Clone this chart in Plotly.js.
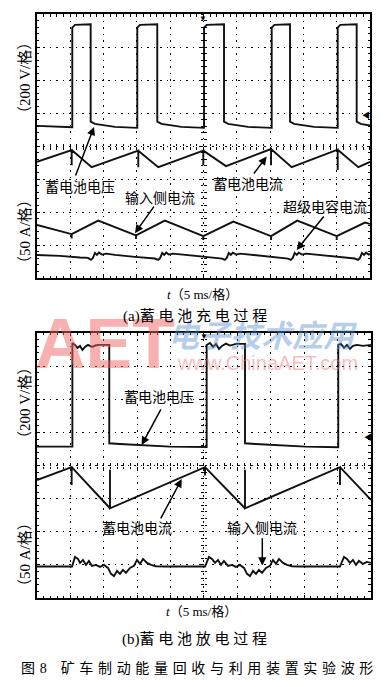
<!DOCTYPE html>
<html><head><meta charset="utf-8">
<script src="https://cdn.plot.ly/plotly-3.0.1.min.js"></script>
<style>html,body{margin:0;padding:0;background:#fff;}#chart{width:391px;height:687px;}</style>
</head><body><div id="chart"></div>
<script>
// ---- data: time in ms (5 ms per division), value in screen divisions ----
// Panel (a) battery charging
const tA_volt = [0, 5.3, 5.3, 5.7, 8.06, 8.06, 8.7, 11.7, 15.06, 15.06, 15.46, 18.06, 18.06, 18.7, 21.7, 25.08, 25.08, 25.48, 28.08, 28.08, 28.7, 31.7, 35.24, 35.24, 35.64, 37.99, 37.99, 38.6, 41.6, 45.15, 45.15, 45.55, 48.0, 48.0, 48.6, 50];
const vA_volt = [4.61, 4.57, 7.59, 7.67, 7.69, 4.74, 4.67, 4.58, 4.55, 7.59, 7.67, 7.69, 4.74, 4.67, 4.58, 4.55, 7.59, 7.67, 7.69, 4.74, 4.67, 4.58, 4.55, 7.59, 7.67, 7.69, 4.74, 4.67, 4.58, 4.55, 7.59, 7.67, 7.69, 4.74, 4.67, 4.62];

const tA_bat = [0, 5.21, 5.21, 5.21, 8.21, 15.21, 15.21, 15.21, 18.21, 24.97, 24.97, 24.97, 28.38, 35.14, 35.14, 35.14, 38.24, 45.15, 45.15, 45.15, 48.24, 50];
const vA_bat = [3.52, 3.88, 3.42, 3.88, 3.36, 3.86, 3.36, 3.86, 3.36, 3.86, 3.42, 3.86, 3.39, 3.91, 3.42, 3.91, 3.36, 3.89, 3.27, 3.89, 3.36, 3.52];

const tA_in = [0, 5.21, 5.21, 5.21, 9.2, 14.86, 14.86, 14.86, 19.2, 24.97, 24.97, 24.97, 29.47, 35.14, 35.14, 35.14, 39.08, 45.0, 45.0, 45.0, 49.25, 50];
const vA_in = [1.61, 1.33, 1.2, 1.33, 1.74, 1.29, 1.18, 1.29, 1.74, 1.27, 1.15, 1.27, 1.71, 1.27, 1.15, 1.27, 1.74, 1.27, 1.15, 1.27, 1.68, 1.64];

const tA_sc = [0, 3.45, 6.46, 7.66, 8.1, 8.4, 8.7, 9.0, 9.3, 9.76, 10.4, 11.7, 14.7, 17.7, 18.2, 18.5, 18.8, 19.1, 19.4, 19.8, 20.4, 22.2, 25.2, 27.8, 28.2, 28.5, 28.8, 29.1, 29.4, 29.9, 30.5, 32.7, 35.7, 37.7, 38.1, 38.4, 38.7, 39.0, 39.3, 39.8, 40.4, 42.5, 45.5, 47.7, 48.2, 48.5, 48.8, 49.1, 49.4, 49.8, 50];
const vA_sc = [0.70, 0.67, 0.62, 0.61, 0.55, 0.61, 0.76, 0.70, 0.77, 0.71, 0.74, 0.70, 0.64, 0.59, 0.55, 0.61, 0.76, 0.70, 0.77, 0.71, 0.74, 0.70, 0.64, 0.59, 0.55, 0.61, 0.76, 0.70, 0.77, 0.71, 0.74, 0.70, 0.64, 0.59, 0.55, 0.61, 0.76, 0.70, 0.77, 0.71, 0.74, 0.70, 0.64, 0.59, 0.55, 0.61, 0.76, 0.70, 0.77, 0.71, 0.73];

// Panel (b) battery discharging
const tB_volt = [0, 5.3, 5.3, 5.69, 6.06, 6.44, 6.81, 7.19, 7.63, 8.23, 8.83, 9.43, 10.82, 10.82, 12.4, 15.4, 19.9, 25.4, 25.4, 25.9, 26.35, 26.8, 27.25, 27.7, 28.29, 28.89, 29.79, 31.14, 31.14, 32.7, 35.7, 40.2, 45.1, 45.1, 45.5, 45.96, 46.4, 46.86, 47.3, 47.9, 48.8, 50];
const vB_volt = [4.57, 4.57, 7.70, 7.64, 7.55, 7.61, 7.49, 7.58, 7.64, 7.58, 7.63, 7.64, 7.64, 4.67, 4.65, 4.61, 4.57, 4.56, 7.64, 7.70, 7.58, 7.67, 7.52, 7.61, 7.68, 7.62, 7.67, 7.67, 4.67, 4.65, 4.61, 4.57, 4.55, 7.64, 7.67, 7.55, 7.64, 7.52, 7.61, 7.64, 7.61, 7.64];

const tB_bat = [0, 5.19, 5.19, 5.19, 10.93, 10.93, 10.93, 25.15, 25.15, 25.15, 31.14, 31.14, 31.14, 45.36, 45.36, 45.36, 50];
const vB_bat = [3.56, 3.95, 3.41, 3.95, 2.71, 3.87, 2.71, 3.95, 3.70, 3.95, 2.71, 3.87, 2.71, 3.95, 3.41, 3.95, 2.96];

const tB_in = [0, 5.24, 5.69, 6.14, 6.44, 6.89, 7.34, 7.78, 8.23, 8.83, 9.43, 10.03, 10.63, 11.08, 11.53, 11.98, 12.42, 12.87, 13.32, 13.92, 14.52, 14.97, 15.42, 15.87, 16.47, 17.07, 17.81, 19.16, 25.15, 25.75, 26.2, 26.65, 27.1, 27.54, 27.99, 28.59, 29.19, 29.79, 30.39, 30.99, 31.44, 31.89, 32.34, 32.79, 33.23, 33.68, 34.28, 34.88, 35.33, 35.78, 36.23, 36.83, 37.43, 38.17, 39.37, 45.36, 45.96, 46.4, 46.86, 47.3, 47.75, 48.2, 48.8, 49.4, 50];
const vB_in = [0.95, 0.95, 1.24, 1.18, 1.06, 1.15, 1.00, 1.12, 0.97, 1.00, 0.94, 1.00, 0.91, 0.73, 0.66, 0.82, 0.73, 0.85, 0.76, 0.91, 0.97, 1.15, 1.03, 1.18, 1.06, 1.00, 0.96, 0.95, 0.95, 1.24, 1.18, 1.06, 1.15, 1.00, 1.12, 0.97, 1.00, 0.94, 1.00, 0.91, 0.73, 0.66, 0.82, 0.73, 0.85, 0.76, 0.91, 0.97, 1.15, 1.03, 1.18, 1.06, 1.00, 0.96, 0.95, 0.95, 1.24, 1.18, 1.06, 1.15, 1.00, 1.12, 1.03, 1.09, 1.06];

// text
const voltUnit = '（200 V/格）';
const ampUnit = '（50 A/格）';
const timeTitle = '<i>t</i>（5 ms/格）';
const capA = '(a)蓄 电 池 充 电 过 程';
const capB = '(b)蓄 电 池 放 电 过 程';
const figCap = '图\u20048\u3000矿\u2004车\u2004制\u2004动\u2004能\u2004量\u2004回\u2004收\u2004与\u2004利\u2004用\u2004装\u2004置\u2004实\u2004验\u2004波\u2004形';
const lblBatV = '蓄电池电压', lblBatI = '蓄电池电流', lblInI = '输入侧电流', lblScI = '超级电容电流';

// ---- layout helpers ----
const FONT = 'Liberation Serif, Noto Sans CJK SC, serif';
const XA = [0.0946, 0.9463], YA = [0.5953, 0.9796];
const XB = [0.0946, 0.9488], YB = [0.1295, 0.5153];
const TR = [0, 50], VR = [0, 8];

function wave(x, y, xa, ya) {
  return {type: 'scatter', mode: 'lines', x: x, y: y, xaxis: xa, yaxis: ya,
    line: {color: '#111', width: 1.9}, hoverinfo: 'skip', showlegend: false};
}
function dummy(xa, ya) {
  return {type: 'scatter', mode: 'lines', x: [], y: [], xaxis: xa, yaxis: ya, hoverinfo: 'skip', showlegend: false};
}
function frame(dom, range, dtick, mdt, anchor) {
  return {domain: dom, range: range, anchor: anchor, showline: true, linewidth: 2, linecolor: '#000',
    mirror: 'ticks', ticks: 'inside', ticklen: 3, tickwidth: 1, tickcolor: '#000', dtick: dtick, tick0: 0,
    showgrid: true, gridcolor: '#000', gridwidth: 1, griddash: '1.5px,5px', zeroline: false,
    showticklabels: false, fixedrange: true,
    minor: {dtick: mdt, tick0: 0, ticks: 'inside', ticklen: 2.5, tickwidth: 1, tickcolor: '#000', showgrid: false}};
}
function center(overlay, dom, range, dtick, mdt, pos, side) {
  return {overlaying: overlay, anchor: 'free', position: pos, domain: dom, range: range,
    showline: false, showgrid: false, zeroline: false, showticklabels: false, fixedrange: true,
    ticks: side, ticklen: 2.5, tickwidth: 1, tickcolor: '#000', dtick: dtick, tick0: 0,
    minor: {dtick: mdt, tick0: 0, ticks: side, ticklen: 2.5, tickwidth: 1, tickcolor: '#000', showgrid: false}};
}
const mid = d => (d[0] + d[1]) / 2;

function txt(text, x, y, xref, yref, size, extra) {
  return Object.assign({text: text, x: x, y: y, xref: xref, yref: yref, showarrow: false,
    xanchor: 'center', yanchor: 'middle', font: {family: FONT, size: size, color: '#000'}}, extra || {});
}
function arrow(hx, hy, tx, ty, xref, yref) {
  return {text: '', x: hx, y: hy, ax: tx, ay: ty, xref: xref, yref: yref, axref: xref, ayref: yref,
    showarrow: true, arrowhead: 2, arrowsize: 1.1, arrowwidth: 1.5, arrowcolor: '#000'};
}

const data = [
  wave(tA_volt, vA_volt, 'x', 'y'), wave(tA_bat, vA_bat, 'x', 'y'),
  wave(tA_in, vA_in, 'x', 'y'), wave(tA_sc, vA_sc, 'x', 'y'),
  wave(tB_volt, vB_volt, 'x2', 'y2'), wave(tB_bat, vB_bat, 'x2', 'y2'), wave(tB_in, vB_in, 'x2', 'y2'),
  dummy('x3', 'y'), dummy('x4', 'y'), dummy('x', 'y3'), dummy('x', 'y4'),
  dummy('x5', 'y2'), dummy('x6', 'y2'), dummy('x2', 'y5'), dummy('x2', 'y6')
];

const annotations = [
  // watermark (drawn first, underneath the texts)
  txt('<b>AET</b>', 0.268, 0.5, 'paper', 'paper', 70,
      {font: {family: 'Liberation Sans, Arial, sans-serif', size: 70, color: 'rgba(240,100,100,0.5)'}}),
  txt('<b><i>电子技术应用</i></b>', 0.673, 0.515, 'paper', 'paper', 31,
      {font: {family: 'Noto Sans CJK SC', size: 31, color: 'rgba(90,145,205,0.45)'}}),
  txt('www.ChinaAET.com', 0.685, 0.4716, 'paper', 'paper', 20,
      {font: {family: 'Liberation Sans, Arial, sans-serif', size: 20, color: 'rgba(240,120,120,0.5)'}}),
  // panel (a) labels
  txt(lblBatV, 6.46, 2.73, 'x', 'y', 14), arrow(8.56, 4.58, 5.71, 3.06, 'x', 'y'),
  txt(lblInI, 18.47, 2.42, 'x', 'y', 14), arrow(14.71, 1.36, 17.72, 2.21, 'x', 'y'),
  txt(lblBatI, 31.68, 2.82, 'x', 'y', 14), arrow(34.49, 3.68, 32.39, 3.12, 'x', 'y'),
  txt(lblScI, 43.24, 2.15, 'x', 'y', 14), arrow(38.99, 0.85, 43.24, 1.91, 'x', 'y'),
  // panel (b) labels
  txt(lblBatV, 18.26, 6.04, 'x2', 'y2', 14), arrow(15.67, 4.62, 18.67, 5.74, 'x2', 'y2'),
  txt(lblBatI, 15.04, 2.11, 'x2', 'y2', 14), arrow(21.66, 3.59, 18.41, 2.36, 'x2', 'y2'),
  txt(lblInI, 33.68, 2.11, 'x2', 'y2', 14), arrow(33.73, 0.98, 33.73, 1.85, 'x2', 'y2'),
  // scope markers
  txt('▼', 24.97, 7.85, 'x', 'y', 8), txt('◀', 49.4, 4.91, 'x', 'y', 8),
  txt('▼', 25.0, 7.88, 'x2', 'y2', 8), txt('◀', 49.55, 4.86, 'x2', 'y2', 8),
  // axis units
  txt(voltUnit, 0.0639, 0.8865, 'paper', 'paper', 15, {textangle: -90}),
  txt(ampUnit, 0.0639, 0.6638, 'paper', 'paper', 15, {textangle: -90}),
  txt(voltUnit, 0.0639, 0.4134, 'paper', 'paper', 15, {textangle: -90}),
  txt(ampUnit, 0.0639, 0.1936, 'paper', 'paper', 15, {textangle: -90}),
  txt(timeTitle, 0.519, 0.572, 'paper', 'paper', 13),
  txt(timeTitle, 0.516, 0.1096, 'paper', 'paper', 13),
  // captions
  txt(capA, 0.4987, 0.5395, 'paper', 'paper', 15),
  txt(capB, 0.4987, 0.0694, 'paper', 'paper', 15),
  txt(figCap, 0.5026, 0.0272, 'paper', 'paper', 14)
];

const layout = {
  width: 391, height: 687, margin: {l: 0, r: 0, t: 0, b: 0},
  paper_bgcolor: '#fff', plot_bgcolor: '#fff', showlegend: false,
  xaxis: frame(XA, TR, 5, 1, 'y'),
  yaxis: frame(YA, VR, 1, 0.2, 'x'),
  xaxis2: frame(XB, TR, 5, 1, 'y2'),
  yaxis2: frame(YB, VR, 1, 0.2, 'x2'),
  xaxis3: center('x', XA, TR, 5, 1, mid(YA), 'inside'),
  xaxis4: center('x', XA, TR, 5, 1, mid(YA), 'outside'),
  yaxis3: center('y', YA, VR, 1, 0.2, mid(XA), 'inside'),
  yaxis4: center('y', YA, VR, 1, 0.2, mid(XA), 'outside'),
  xaxis5: center('x2', XB, TR, 5, 1, mid(YB), 'inside'),
  xaxis6: center('x2', XB, TR, 5, 1, mid(YB), 'outside'),
  yaxis5: center('y2', YB, VR, 1, 0.2, mid(XB), 'inside'),
  yaxis6: center('y2', YB, VR, 1, 0.2, mid(XB), 'outside'),
  annotations: annotations
};

Plotly.newPlot('chart', data, layout, {staticPlot: true, displayModeBar: false});
</script></body></html>
